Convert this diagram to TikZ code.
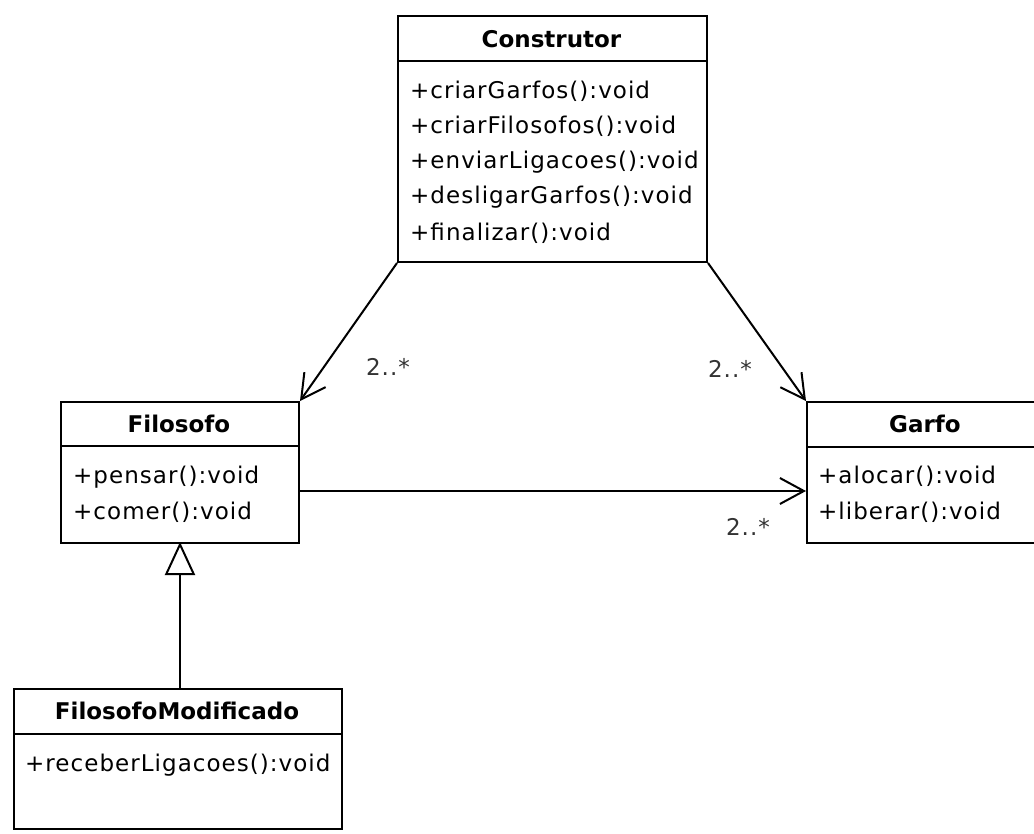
\documentclass[tikz,border=0pt]{standalone}
\usepackage{fontspec}
\setmainfont{DejaVu Sans}
\newfontfamily\umlfont[LetterSpace=4.5]{DejaVu Sans}
\usetikzlibrary{arrows.meta}
\begin{document}
\begin{tikzpicture}[x=1pt,y=-1pt,
  classbox/.style={draw=black,line width=2pt,fill=white,rectangle,inner sep=0pt,anchor=north west},
  title/.style={font=\fontsize{23}{25}\selectfont\bfseries,anchor=center,inner sep=0pt},
  member/.style={font=\umlfont\fontsize{23}{25}\selectfont,anchor=west,inner sep=0pt},
  mult/.style={font=\umlfont\fontsize{23}{25}\selectfont,text=black!80,inner sep=0pt},
  sep/.style={line width=2pt},
  assoc/.style={line width=2pt,-{Straight Barb[length=24pt,width=26pt,line width=2pt]}},
  gen/.style={line width=2pt,-{Triangle[open,length=33pt,width=30pt,line width=2pt,fill=white]}}]
\useasboundingbox (0,0) rectangle (1034,834);
\clip (0,0) rectangle (1034,834);
\fill[white] (0,0) rectangle (1034,834);

% Construtor
\node[classbox,minimum width=309pt,minimum height=246pt] (con) at (397,15) {};
\draw[sep] (397,61) -- (706,61);
\node[title] (conT) at (551.5,39) {Construtor};
\node[member] (con1) at (410,91) {+criarGarfos():void};
\node[member] (con2) at (410,126) {+criarFilosofos():void};
\node[member] (con3) at (410,162) {+enviarLigacoes():void};
\node[member] (con4) at (410,197) {+desligarGarfos():void};
\node[member] (con5) at (410,233) {+finalizar():void};

% Filosofo
\node[classbox,minimum width=238pt,minimum height=141pt] (fil) at (60,401) {};
\draw[sep] (60,446) -- (298,446);
\node[title] (filT) at (179,424) {Filosofo};
\node[member] (fil1) at (73,477) {+pensar():void};
\node[member] (fil2) at (73,512) {+comer():void};

% Garfo
\node[classbox,minimum width=238pt,minimum height=141pt] (gar) at (806,401) {};
\draw[sep] (806,447) -- (1044,447);
\node[title] (garT) at (925,424) {Garfo};
\node[member] (gar1) at (818,476) {+alocar():void};
\node[member] (gar2) at (818,512) {+liberar():void};

% FilosofoModificado
\node[classbox,minimum width=328pt,minimum height=140pt] (mod) at (13,688) {};
\draw[sep] (13,734) -- (341,734);
\node[title] (modT) at (177,711) {FilosofoModificado};
\node[member] (mod1) at (25,765) {+receberLigacoes():void};

% associations
\draw[assoc] (con.north west |- con.south) -- (fil.north east);
\draw[assoc] (con.south east) -- (gar.north west);
\coordinate (filR) at (298,491);
\coordinate (garL) at (806,491);
\draw[assoc] (filR) -- (garL);
\node[mult] (m1) at (388,367) {2..*};
\node[mult] (m2) at (730,369) {2..*};
\node[mult] (m3) at (748,527) {2..*};

% generalization
\coordinate (modTop) at (180,688);
\coordinate (filBot) at (180,542);
\draw[gen] (modTop) -- (filBot);
\end{tikzpicture}
\end{document}
